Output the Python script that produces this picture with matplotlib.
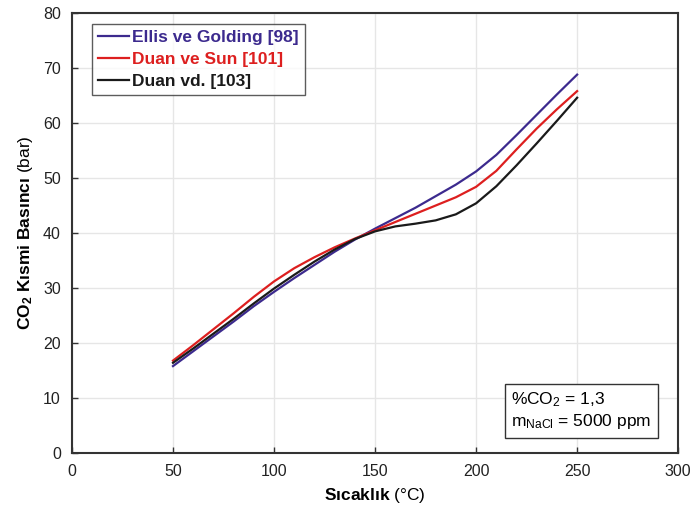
import matplotlib
matplotlib.use("Agg")
import matplotlib.pyplot as plt

plt.rcParams["font.family"] = ["Liberation Sans", "DejaVu Sans"]
plt.rcParams["mathtext.fontset"] = "custom"
plt.rcParams["mathtext.rm"] = "Liberation Sans"
plt.rcParams["mathtext.it"] = "Liberation Sans"
plt.rcParams["mathtext.bf"] = "Liberation Sans:bold"

# temperature (°C)
temp = [50, 60, 70, 80, 90, 100, 110, 120, 130, 140, 150,
        160, 170, 180, 190, 200, 210, 220, 230, 240, 250]

# CO2 partial pressure (bar)
ellis = [15.8, 18.5, 21.2, 23.9, 26.7, 29.3, 31.8, 34.2, 36.6, 38.8, 40.8,
         42.7, 44.6, 46.7, 48.8, 51.2, 54.2, 57.8, 61.5, 65.2, 68.8]
duan_sun = [16.8, 19.6, 22.5, 25.4, 28.4, 31.2, 33.6, 35.6, 37.4, 39.0, 40.5,
            42.0, 43.5, 45.0, 46.5, 48.4, 51.3, 55.2, 59.0, 62.5, 65.8]
duan_vd = [16.4, 19.0, 21.7, 24.4, 27.2, 29.9, 32.4, 34.8, 37.0, 38.9, 40.3,
           41.2, 41.7, 42.3, 43.4, 45.4, 48.5, 52.3, 56.3, 60.4, 64.6]

series = [
    ("Ellis ve Golding [98]", ellis, "#3c2a8e"),
    ("Duan ve Sun [101]", duan_sun, "#dd1f1f"),
    ("Duan vd. [103]", duan_vd, "#1a1a1a"),
]

fig = plt.figure(figsize=(6.92, 5.11), dpi=100)
ax = fig.add_axes([0.104, 0.1135, 0.876, 0.861])

for label, vals, col in series:
    ax.plot(temp, vals, color=col, lw=1.6, label=label)

ax.set_xlim(0, 300)
ax.set_ylim(0, 80)
ax.set_xticks(range(0, 301, 50))
ax.set_yticks(range(0, 81, 10))
ax.grid(True, color="#e6e6e6", lw=1.0)
ax.set_axisbelow(True)
ax.tick_params(direction="in", length=4, width=1, colors="#333333",
               labelsize=11.5, labelcolor="#222222", pad=8)
for sp in ax.spines.values():
    sp.set_color("#333333")
    sp.set_linewidth(1.5)

ax.set_xlabel(r"$\mathbf{S\i cakl\i k}$ (°C)", fontsize=12.5, labelpad=5)
ax.set_ylabel(r"$\mathbf{CO_2\ K\i smi\ Bas\i nc\i}$ (bar)", fontsize=12.5, labelpad=6)

leg = ax.legend(loc="upper left", bbox_to_anchor=(0.033, 0.975), borderaxespad=0,
                frameon=True, fancybox=False, fontsize=12.5, handlelength=1.8,
                handletextpad=0.15, labelspacing=0.38, borderpad=0.35)
leg.get_frame().set_edgecolor("#333333")
leg.get_frame().set_linewidth(1.0)
for txt, (_, _, col) in zip(leg.get_texts(), series):
    txt.set_color(col)
    txt.set_fontweight("bold")

ax.text(0.725, 0.05, "%CO$_2$ = 1,3\nm$_\\mathrm{NaCl}$ = 5000 ppm", transform=ax.transAxes,
        fontsize=12.5, va="bottom", ha="left", linespacing=1.2,
        bbox=dict(boxstyle="square,pad=0.4", fc="white", ec="#333333", lw=1.0))

fig.savefig("out.png", dpi=100)
